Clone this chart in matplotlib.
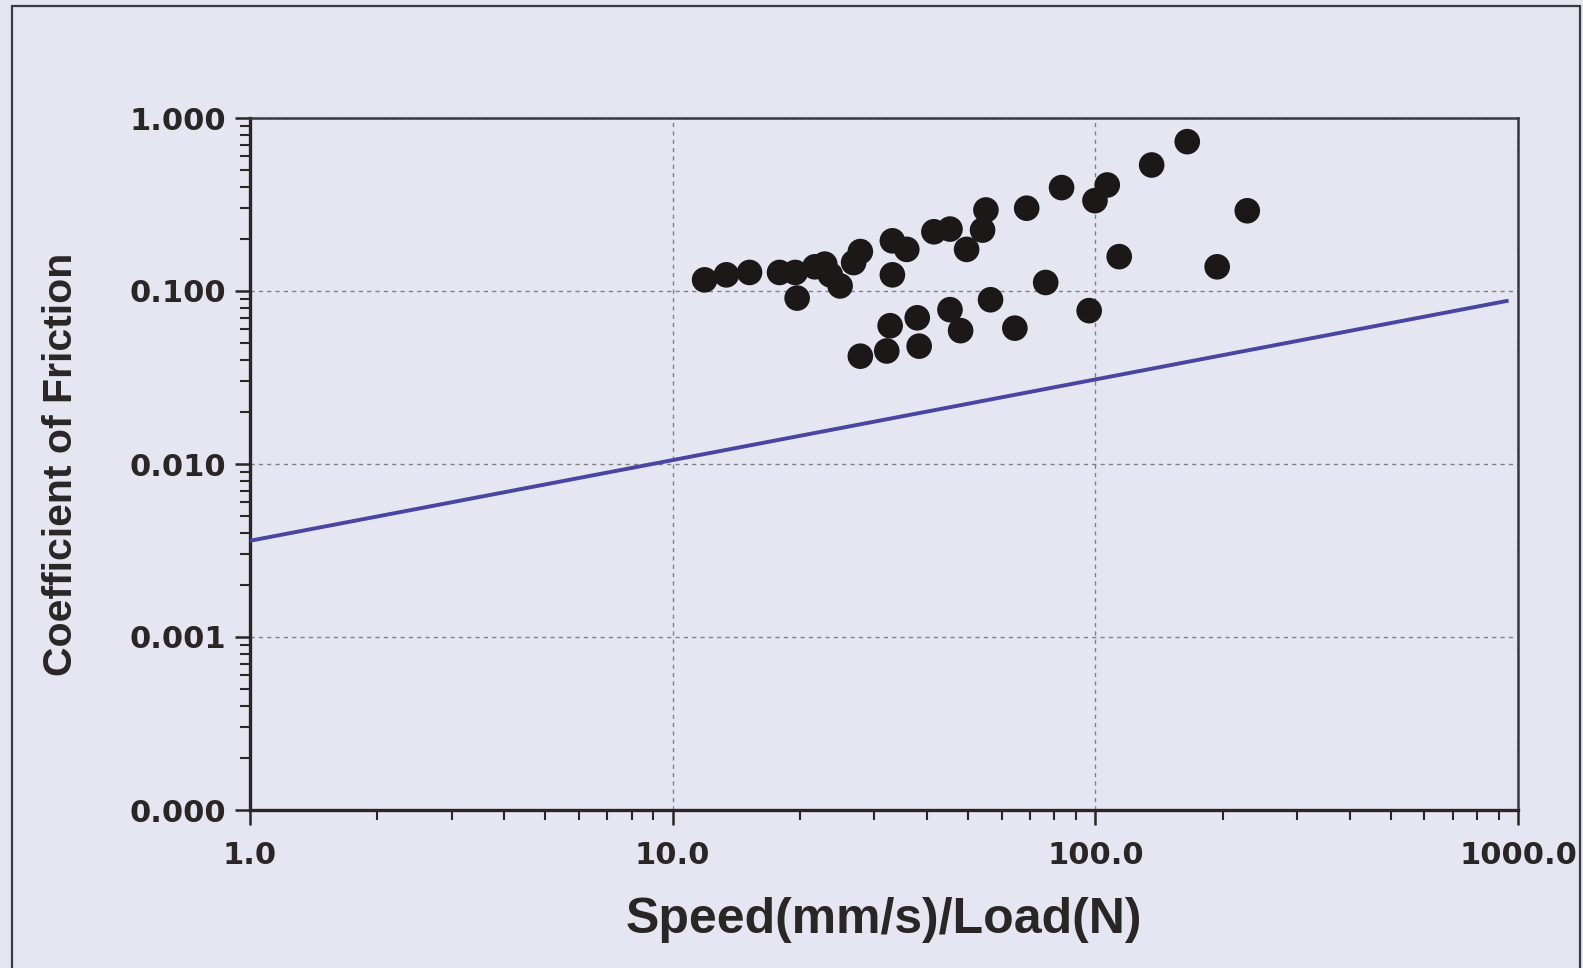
import matplotlib
matplotlib.use("Agg")
import matplotlib.pyplot as plt
from matplotlib.patches import Rectangle
from matplotlib.ticker import FixedLocator, LogLocator, NullFormatter

# Measured friction coefficients against speed/load ratio
speed_load = [11.9, 13.4, 15.2, 17.9, 19.5, 19.7, 21.7, 22.9, 23.6, 24.9,
              26.8, 27.8, 33.1, 33.1, 35.8, 41.5, 45.3, 49.6, 54.1, 55.1,
              56.5, 45.3, 48.0, 37.9, 38.3, 32.7, 32.1, 27.8, 68.8, 83.2,
              106.7, 99.8, 135.9, 165.0, 228.8, 113.9, 194.2, 76.3, 96.7, 64.5]
friction = [0.116, 0.124, 0.128, 0.128, 0.128, 0.091, 0.138, 0.143, 0.124, 0.107,
            0.146, 0.169, 0.195, 0.124, 0.174, 0.220, 0.228, 0.174, 0.225, 0.294,
            0.089, 0.078, 0.059, 0.070, 0.048, 0.063, 0.045, 0.042, 0.301, 0.396,
            0.410, 0.333, 0.535, 0.730, 0.291, 0.158, 0.138, 0.112, 0.077, 0.061]

# Reference trend line (power law, straight on log-log axes)
trend_x = [1.0, 950.0]
trend_y = [0.0036, 0.088]

x_ticks = [1.0, 10.0, 100.0, 1000.0]
x_tick_labels = ["1.0", "10.0", "100.0", "1000.0"]
y_ticks = [0.0001, 0.001, 0.01, 0.1, 1.0]
y_tick_labels = ["0.000", "0.001", "0.010", "0.100", "1.000"]

bg = "#e6e6f3"
ink = "#2a2626"

fig = plt.figure(figsize=(15.83, 9.68), dpi=100, facecolor=bg)
fig.patches.append(Rectangle((12 / 1583, -0.05), (1580 - 12) / 1583, 1.05 - 6 / 968,
                             transform=fig.transFigure, fill=False,
                             edgecolor="#3a3a3a", linewidth=1.6))

ax = fig.add_axes([250 / 1583, 1 - 810 / 968, (1518 - 250) / 1583, (810 - 118) / 968])
ax.set_facecolor(bg)
ax.set_xscale("log")
ax.set_yscale("log")
ax.set_xlim(1, 1000)
ax.set_ylim(1e-4, 1)

ax.grid(True, which="major", color="#808080", linestyle=(0, (3, 3)), linewidth=1.0)
ax.set_axisbelow(True)

ax.plot(trend_x, trend_y, color="#4a45a3", linewidth=2.8, solid_capstyle="butt", zorder=3)
ax.scatter(speed_load, friction, s=340, color="#1c1818", edgecolors="none", zorder=4)

ax.xaxis.set_major_locator(FixedLocator(x_ticks))
ax.set_xticklabels(x_tick_labels)
ax.yaxis.set_major_locator(FixedLocator(y_ticks))
ax.set_yticklabels(y_tick_labels)
ax.xaxis.set_minor_locator(LogLocator(base=10, subs=range(2, 10)))
ax.yaxis.set_minor_locator(LogLocator(base=10, subs=range(2, 10)))
ax.xaxis.set_minor_formatter(NullFormatter())
ax.yaxis.set_minor_formatter(NullFormatter())

ax.tick_params(which="major", direction="out", length=11, width=1.8, color=ink,
               labelsize=22, labelcolor=ink)
ax.tick_params(which="minor", direction="out", length=7, width=1.5, color=ink)
ax.tick_params(axis="x", which="major", pad=11)
ax.tick_params(axis="y", which="major", pad=6)
for lab in ax.get_xticklabels() + ax.get_yticklabels():
    lab.set_fontfamily("DejaVu Sans")
    lab.set_fontweight("bold")

for side in ["left", "bottom"]:
    ax.spines[side].set_linewidth(2.4)
    ax.spines[side].set_color(ink)
for side in ["top", "right"]:
    ax.spines[side].set_linewidth(1.8)
    ax.spines[side].set_color("#3a3a3a")

ax.set_xlabel("Speed(mm/s)/Load(N)", fontsize=36, fontweight="bold",
              family="Liberation Sans", color=ink, labelpad=20)
ax.set_ylabel("Coefficient of Friction", fontsize=29.5, fontweight="bold",
              family="Liberation Sans", color=ink, labelpad=36)

fig.savefig("out.png", dpi=100, facecolor=bg)
